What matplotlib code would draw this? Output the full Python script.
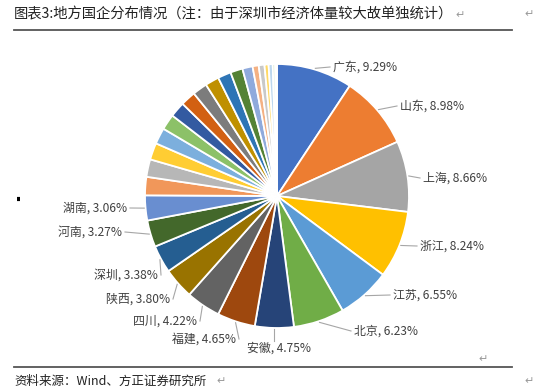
import numpy as np
import matplotlib
matplotlib.use("Agg")
import matplotlib.pyplot as plt

plt.rcParams['font.family'] = ['Noto Sans CJK SC', 'DejaVu Sans']

# data: share of local SOEs by region (%), clockwise from 12 o'clock
regions = ['广东', '山东', '上海', '浙江', '江苏', '北京', '安徽', '福建', '四川',
           '陕西', '深圳', '河南', '湖南']
shares = [9.29, 8.98, 8.66, 8.24, 6.55, 6.23, 4.75, 4.65, 4.22, 3.80, 3.38, 3.27, 3.06]
# unlabeled smaller regions
others = [2.25, 2.15, 2.05, 1.98, 1.92, 1.88, 1.85, 1.80, 1.70, 1.62, 1.50,
          1.25, 0.75, 0.70, 0.50, 0.50, 0.30, 0.22]

colors = ['#4472C4', '#ED7D31', '#A5A5A5', '#FFC000', '#5B9BD5', '#70AD47',
          '#264478', '#9E480E', '#636363', '#997300', '#255E91', '#43682B',
          '#698ED0', '#F1975A', '#B7B7B7', '#FFCD33', '#7CAFDD', '#8CC168',
          '#335AA1', '#D26012', '#7C7C7C', '#BF9000', '#2E75B6', '#548235',
          '#8FAADC', '#F4B183', '#C9C9C9', '#FFD966', '#BDD7EE', '#C5E0B4',
          '#DAE3F3']

W, H = 550, 389
title = '图表3:地方国企分布情况（注：由于深圳市经济体量较大故单独统计）'
source = '资料来源：Wind、方正证券研究所'

# label anchor (pixel x, pixel y, alignment)
label_pos = [(333, 67, 'left'), (400, 106, 'left'), (423, 178, 'left'),
             (420, 246, 'left'), (393, 295, 'left'), (354, 331, 'left'),
             (279, 348, 'center'), (236, 339, 'right'), (197, 321, 'right'),
             (170, 299, 'right'), (158, 275, 'right'), (122, 232, 'right'),
             (127, 208, 'right')]


def py(y):
    return H - y


fig = plt.figure(figsize=(5.5, 3.89), dpi=100)
ax = fig.add_axes([0, 0, 1, 1])

cx, cy, r = 277, py(196), 132
values = shares + others
wedges, _ = ax.pie(values, colors=colors[:len(values)], startangle=90,
                   counterclock=False, center=(cx, cy), radius=r,
                   wedgeprops=dict(edgecolor='white', linewidth=1.3))
ax.set_xlim(0, W)
ax.set_ylim(0, H)
ax.set_aspect('equal')
ax.axis('off')

# data labels with leader lines
for w, name, val, (lx, ly, ha) in zip(wedges, regions, shares, label_pos):
    ang = np.deg2rad((w.theta1 + w.theta2) / 2)
    ex, ey = cx + r * 1.01 * np.cos(ang), cy + r * 1.01 * np.sin(ang)
    ax.text(lx, py(ly), f'{name}, {val:.2f}%', ha=ha, va='center',
            fontsize=8.6, color='#404040')
    if ha == 'left':
        tx = lx - 3
    elif ha == 'right':
        tx = lx + 3
    else:
        tx = None
    if tx is not None:
        ax.plot([ex, tx], [ey, py(ly)], color='#A6A6A6', lw=0.8)
    else:
        ax.plot([ex, ex], [ey, py(ly) + 7], color='#A6A6A6', lw=0.8)

# header / footer decoration
ax.text(14, py(14), title, fontsize=10.3, color='#222222', va='center', ha='left')
ax.text(455, py(15), '↵', fontsize=8, color='#999999', va='center')
ax.text(524, py(14), '↵', fontsize=8, color='#999999', va='center')
ax.plot([14, 512], [py(30), py(30)], color='#555555', lw=1.3)

ax.plot([17, 20], [py(199), py(199)], color='black', lw=3, solid_capstyle='butt')

ax.text(478, py(359), '↵', fontsize=8, color='#999999', va='center')
ax.plot([14, 512], [py(367), py(367)], color='#555555', lw=1.3)
ax.text(14, py(381), source, fontsize=9, color='#222222', va='center',
        ha='left', style='italic')
ax.text(216, py(381), '↵', fontsize=8, color='#999999', va='center')
ax.text(524, py(381), '↵', fontsize=8, color='#999999', va='center')

fig.savefig('out.png', dpi=100)
